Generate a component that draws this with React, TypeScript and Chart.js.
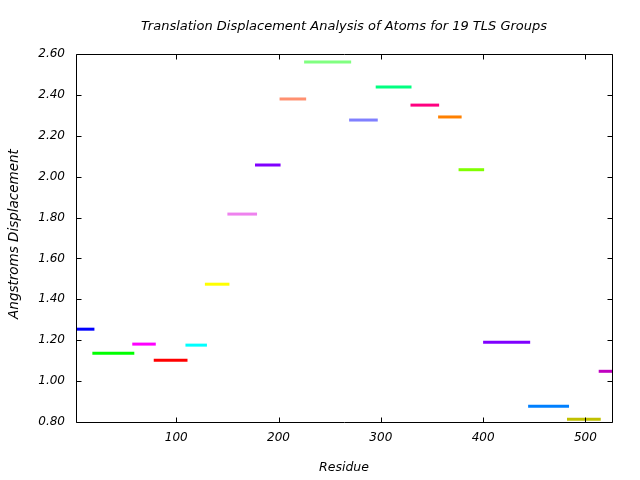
import { useEffect, useRef } from 'react';
import { Chart, registerables } from 'chart.js';

Chart.register(...registerables);

const titleText = 'Translation Displacement Analysis of Atoms for 19 TLS Groups';
const xAxisTitle = 'Residue';
const yAxisTitle = 'Angstroms Displacement';

// TLS group residue ranges and translation displacement values
const groupStarts = [1, 18, 57, 78, 109, 128, 150, 177, 201, 225, 269, 295, 329, 356, 376, 400, 444, 482, 513];
const groupEnds = [20, 59, 80, 111, 130, 152, 179, 202, 227, 271, 297, 330, 357, 379, 401, 446, 484, 515, 530];
const groupValues = [1.254, 1.136, 1.181, 1.102, 1.176, 1.474, 1.817, 2.057, 2.380, 2.561, 2.277, 2.438, 2.350, 2.292, 2.034, 1.190, 0.877, 0.813, 1.048];
const groupColors = [
  '#0000ff', '#00ff00', '#ff00ff', '#ff0000', '#00ffff', '#ffff00', '#ee82ee', '#8000ff', '#ff9070',
  '#80ff80', '#8080ff', '#00ff80', '#ff0080', '#ff8000', '#80ff00', '#8000ff', '#0080ff', '#c0c000', '#c000c0',
];

const xTickValues = [100, 200, 300, 400, 500];
const yTickValues = [0.8, 1.0, 1.2, 1.4, 1.6, 1.8, 2.0, 2.2, 2.4, 2.6];
const xMin = 2;
const xMax = 526;
const yMin = 0.8;
const yMax = 2.6;

const FONT = 'DejaVu Sans';

const framePlugin = {
  id: 'frame',
  afterDraw(chart: any) {
    const { ctx, chartArea, scales } = chart;
    const l = Math.round(chartArea.left) + 0.5;
    const r = Math.round(chartArea.right) + 0.5;
    const t = Math.round(chartArea.top) + 0.5;
    const b = Math.round(chartArea.bottom) + 0.5;
    const tl = 5;
    ctx.save();
    ctx.strokeStyle = '#000';
    ctx.lineWidth = 1;
    ctx.beginPath();
    ctx.rect(l, t, r - l, b - t);
    for (const v of xTickValues) {
      const x = Math.round(scales.x.getPixelForValue(v)) + 0.5;
      ctx.moveTo(x, b);
      ctx.lineTo(x, b - tl);
      ctx.moveTo(x, t);
      ctx.lineTo(x, t + tl);
    }
    for (const v of yTickValues) {
      const y = Math.round(scales.y.getPixelForValue(v)) + 0.5;
      ctx.moveTo(l, y);
      ctx.lineTo(l + tl, y);
      ctx.moveTo(r, y);
      ctx.lineTo(r - tl, y);
    }
    ctx.stroke();
    // y axis title
    ctx.fillStyle = '#000';
    ctx.font = `italic 13.5px "${FONT}"`;
    ctx.textAlign = 'center';
    ctx.textBaseline = 'middle';
    ctx.translate(14, 234);
    ctx.rotate(-Math.PI / 2);
    ctx.fillText(yAxisTitle, 0, 0);
    ctx.restore();
  },
};

export default function App() {
  const ref = useRef<HTMLCanvasElement | null>(null);
  useEffect(() => {
    if (!ref.current) return;
    const datasets = groupValues.map((v, i) => ({
      label: `Group ${i + 1}`,
      data: [
        { x: groupStarts[i], y: v },
        { x: groupEnds[i], y: v },
      ],
      borderColor: groupColors[i],
      backgroundColor: groupColors[i],
      borderWidth: 3,
      borderCapStyle: 'butt' as const,
      pointRadius: 0,
      fill: false,
      tension: 0,
    }));
    const chart = new Chart(ref.current, {
      type: 'line',
      data: { datasets },
      plugins: [framePlugin],
      options: {
        responsive: false,
        animation: false,
        layout: { padding: { left: 0, right: 28, top: 0, bottom: 0 } },
        plugins: {
          legend: { display: false },
          tooltip: { enabled: false },
          title: {
            display: true,
            text: titleText,
            fullSize: false,
            color: '#000',
            font: { family: FONT, size: 13, style: 'italic', weight: 'normal' },
            padding: { top: 19, bottom: 19.4 },
          },
        },
        scales: {
          x: {
            type: 'linear',
            min: xMin,
            max: xMax,
            afterFit: (s: any) => { s.height = 58; },
            afterBuildTicks: (s: any) => { s.ticks = xTickValues.map((v) => ({ value: v })); },
            grid: { display: false, drawTicks: false },
            border: { display: false },
            ticks: {
              padding: 9,
              color: '#000',
              font: { family: FONT, size: 12, style: 'italic' },
              maxRotation: 0,
              callback: (v: any) => String(v),
            },
            title: {
              display: true,
              text: xAxisTitle,
              color: '#000',
              font: { family: FONT, size: 12.5, style: 'italic' },
              padding: { top: 0, bottom: 4.5 },
            },
          },
          y: {
            type: 'linear',
            min: yMin,
            max: yMax,
            afterFit: (s: any) => { s.width = 76; },
            afterBuildTicks: (s: any) => { s.ticks = yTickValues.map((v) => ({ value: v })); },
            grid: { display: false, drawTicks: false },
            border: { display: false },
            ticks: {
              padding: 11,
              color: '#000',
              font: { family: FONT, size: 12, style: 'italic' },
              callback: (v: any) => Number(v).toFixed(2),
            },
          },
        },
      },
    });
    return () => chart.destroy();
  }, []);
  return (
    <div style={{ position: 'absolute', left: 0, top: 0, width: 640, height: 480, background: '#fff' }}>
      <canvas ref={ref} width={640} height={480} />
    </div>
  );
}
